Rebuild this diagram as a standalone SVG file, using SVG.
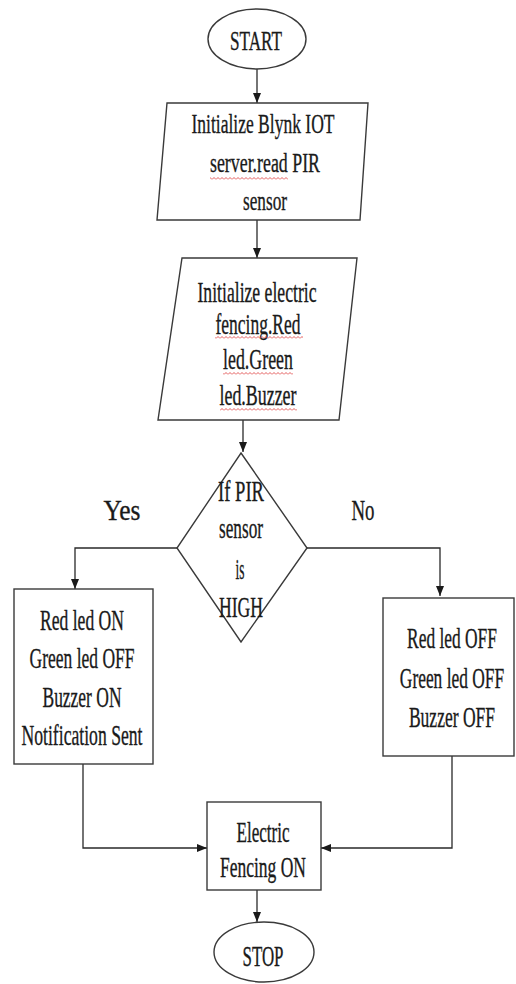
<svg xmlns="http://www.w3.org/2000/svg" width="516" height="984" viewBox="0 0 516 984">
  <defs>
    <style>
      .shape { fill: #ffffff; stroke: #3a3a3a; stroke-width: 1.4; }
      .conn { fill: none; stroke: #2a2a2a; stroke-width: 1.3; marker-end: url(#arrow); }
      .t { font-family: "Liberation Serif", "Times New Roman", serif; font-size: 30px; fill: #1a1a1a; stroke: #1a1a1a; stroke-width: 0.35; text-anchor: middle; }
      .s { font-size: 28px; }
    </style>
    <marker id="arrow" markerUnits="userSpaceOnUse" markerWidth="10" markerHeight="8" refX="10" refY="4" orient="auto">
      <path d="M0,0 L10,4 L0,8 z" fill="#1a1a1a"/>
    </marker>
    <pattern id="wavy" patternUnits="userSpaceOnUse" width="4" height="3">
      <path d="M0,2.5 L2,0.5 L4,2.5" fill="none" stroke="#e04848" stroke-width="0.9"/>
    </pattern>
  </defs>
  <rect width="516" height="984" fill="#ffffff"/>

  <g id="connectors">
    <path class="conn" d="M257,68 V103"/>
    <path class="conn" d="M257,220 V258"/>
    <path class="conn" d="M243,420 V452"/>
    <path class="conn" d="M177,548 H75 V589"/>
    <path class="conn" d="M307,548 H440 V596"/>
    <path class="conn" d="M83,764 V848 H207"/>
    <path class="conn" d="M452,756 V848 H321"/>
    <path class="conn" d="M257,890 V922"/>
  </g>

  <g id="start">
    <ellipse class="shape" cx="257" cy="39" rx="49" ry="30"/>
    <text class="t s" x="256" y="50" textLength="52" lengthAdjust="spacingAndGlyphs">START</text>
  </g>

  <g id="init-blynk">
    <polygon class="shape" points="167,103 368,103 360,220 157,220"/>
    <text class="t s" x="263" y="133" textLength="143" lengthAdjust="spacingAndGlyphs">Initialize Blynk IOT</text>
    <text class="t s" x="265" y="172" textLength="110" lengthAdjust="spacingAndGlyphs">server.read PIR</text>
    <text class="t s" x="265" y="210" textLength="44" lengthAdjust="spacingAndGlyphs">sensor</text>
    <rect x="210" y="177" width="78" height="3" fill="url(#wavy)"/>
  </g>

  <g id="init-fencing">
    <polygon class="shape" points="182,258 357,258 339,420 158,420"/>
    <text class="t" x="257" y="302" textLength="119" lengthAdjust="spacingAndGlyphs">Initialize electric</text>
    <text class="t" x="258" y="334" textLength="85" lengthAdjust="spacingAndGlyphs">fencing.Red</text>
    <text class="t" x="258" y="369" textLength="70" lengthAdjust="spacingAndGlyphs">led.Green</text>
    <text class="t" x="258" y="405" textLength="77" lengthAdjust="spacingAndGlyphs">led.Buzzer</text>
    <rect x="215" y="336" width="88" height="3" fill="url(#wavy)"/>
    <rect x="223" y="372" width="70" height="3" fill="url(#wavy)"/>
    <rect x="220" y="408" width="77" height="3" fill="url(#wavy)"/>
  </g>

  <g id="decision">
    <polygon class="shape" points="241,453 307,548 241,642 177,548"/>
    <text class="t" x="241" y="501" textLength="46" lengthAdjust="spacingAndGlyphs">If PIR</text>
    <text class="t" x="241" y="538" textLength="44" lengthAdjust="spacingAndGlyphs">sensor</text>
    <text class="t" x="240" y="579" textLength="9" lengthAdjust="spacingAndGlyphs">is</text>
    <text class="t" x="241" y="617" textLength="44" lengthAdjust="spacingAndGlyphs">HIGH</text>
  </g>

  <g id="labels">
    <text class="t" x="122" y="520" textLength="37" lengthAdjust="spacingAndGlyphs">Yes</text>
    <text class="t" x="363" y="520" textLength="23" lengthAdjust="spacingAndGlyphs">No</text>
  </g>

  <g id="yes-box">
    <rect class="shape" x="14" y="589" width="139" height="175"/>
    <text class="t" x="82" y="630" textLength="84" lengthAdjust="spacingAndGlyphs">Red led ON</text>
    <text class="t" x="82" y="668" textLength="105" lengthAdjust="spacingAndGlyphs">Green led OFF</text>
    <text class="t" x="82" y="707" textLength="79" lengthAdjust="spacingAndGlyphs">Buzzer ON</text>
    <text class="t" x="82" y="745" textLength="121" lengthAdjust="spacingAndGlyphs">Notification Sent</text>
  </g>

  <g id="no-box">
    <rect class="shape" x="383" y="598" width="131" height="158"/>
    <text class="t" x="0" y="0" transform="translate(452,648) scale(0.58,1)">Red led OFF</text>
    <text class="t" x="0" y="0" transform="translate(452,688) scale(0.58,1)">Green led OFF</text>
    <text class="t" x="0" y="0" transform="translate(452,727) scale(0.585,1)">Buzzer OFF</text>
  </g>

  <g id="fencing-on">
    <rect class="shape" x="207" y="802" width="114" height="88"/>
    <text class="t" x="263" y="842" textLength="53" lengthAdjust="spacingAndGlyphs">Electric</text>
    <text class="t" x="263" y="877" textLength="86" lengthAdjust="spacingAndGlyphs">Fencing ON</text>
  </g>

  <g id="stop">
    <ellipse class="shape" cx="264" cy="952" rx="50" ry="30"/>
    <text class="t" x="263" y="966" textLength="41" lengthAdjust="spacingAndGlyphs">STOP</text>
  </g>
</svg>
